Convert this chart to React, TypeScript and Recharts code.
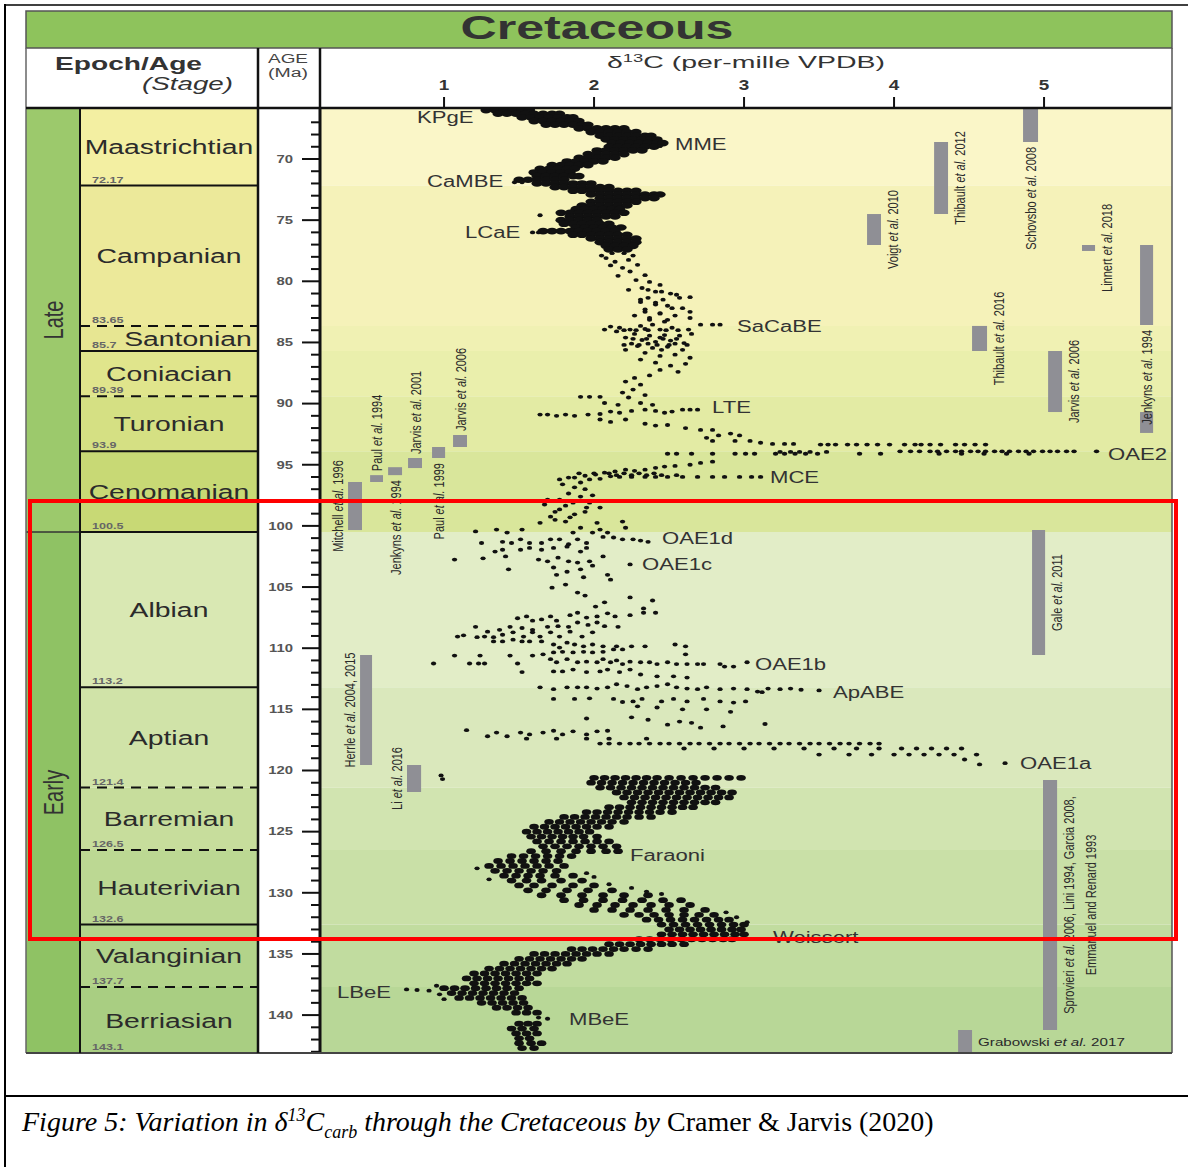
import React from "react";
import { ScatterChart, Scatter, XAxis, YAxis, ReferenceArea, ReferenceLine } from "recharts";

const W = 1188;
const H = 1167;
const PLOT_TOP = 108;
const PLOT_BOTTOM = 1053;
const PLOT_RIGHT = 1172;
const COL_LEFT = 26;
const COL_WIDTH = 232;
const EPOCH_FRAC = 54 / 232;

const SANS = '"Liberation Sans", Arial, Helvetica, sans-serif';
const INK = "#333";

const ageDomain: [number, number] = [65.83, 143.1];
const d13cDomain: [number, number] = [0.173, 5.853];
const d13cTicks = [1, 2, 3, 4, 5];
const ageLabelTicks = [70, 75, 80, 85, 90, 95, 100, 105, 110, 115, 120, 125, 130, 135, 140];
const ageTicks = Array.from({ length: 77 }, (_, i) => 67 + i);

// stages, top to bottom
const stageNames = ["Maastrichtian", "Campanian", "Santonian", "Coniacian", "Turonian", "Cenomanian",
  "Albian", "Aptian", "Barremian", "Hauterivian", "Valanginian", "Berriasian"];
const stageBases = [72.17, 83.65, 85.7, 89.39, 93.9, 100.5, 113.2, 121.4, 126.5, 132.6, 137.7, 143.1];
const baseDashed = [false, true, false, true, false, false, false, true, true, false, true, false];
const stageColors = ["#f3efa2", "#ece99a", "#e7e692", "#e0e58c", "#d5e083", "#c8d975",
  "#d9e8b3", "#d0e3a8", "#c7dd9c", "#bcd893", "#b2d38a", "#a9ce82"];
const bandColors = ["#faf6c8", "#f5f2b9", "#f0f1b3", "#eaefac", "#e3eba4", "#d9e69b",
  "#e2edc7", "#dae8bc", "#d1e4b0", "#c9e0a7", "#c1dc9f", "#b8d797"];
const epochNames = ["Late", "Early"];
const epochBases = [100.5, 143.1];
const epochColors = ["#9cc96c", "#8fc264"];

// δ13C record: dense rows [age, δ13C values]
type Row = [number, number[]];
type Pt = [number, number];

const lateBand: Row[] = [
  [66.0, [1.28, 1.34, 1.4, 1.46, 1.52, 1.57]],
  [66.3, [1.36, 1.42, 1.48, 1.54, 1.6, 1.66, 1.72, 1.77]],
  [66.6, [1.52, 1.58, 1.64, 1.7, 1.76, 1.82, 1.86]],
  [66.9, [1.6, 1.66, 1.72, 1.78, 1.84, 1.9]],
  [67.2, [1.68, 1.74, 1.8, 1.86, 1.92, 1.96]],
  [67.5, [1.9, 1.96, 2.02, 2.08, 2.14, 2.2]],
  [67.8, [1.98, 2.04, 2.1, 2.16, 2.22, 2.28]],
  [68.1, [2.04, 2.1, 2.16, 2.22, 2.28, 2.34, 2.38]],
  [68.4, [2.08, 2.14, 2.2, 2.26, 2.32, 2.38, 2.42]],
  [68.7, [2.12, 2.18, 2.24, 2.3, 2.36, 2.42, 2.46]],
  [69.0, [2.1, 2.16, 2.22, 2.28, 2.34, 2.4]],
  [69.3, [2.02, 2.08, 2.14, 2.2, 2.26, 2.32]],
  [69.6, [1.96, 2.02, 2.08, 2.14, 2.2]],
  [69.9, [1.9, 1.96, 2.02, 2.08, 2.14]],
  [70.2, [1.82, 1.88, 1.94, 2.0, 2.06]],
  [70.5, [1.72, 1.78, 1.84, 1.9, 1.96]],
  [70.8, [1.64, 1.7, 1.76, 1.82, 1.87]],
  [71.1, [1.6, 1.66, 1.72, 1.78, 1.84]],
  [71.4, [1.62, 1.68, 1.74, 1.8, 1.86, 1.9]],
  [71.7, [1.5, 1.56, 1.62, 1.68, 1.74, 1.8]],
  [72.0, [1.62, 1.68, 1.74, 1.8, 1.86, 1.92, 1.98]],
  [72.3, [1.74, 1.8, 1.86, 1.92, 1.98, 2.04, 2.1]],
  [72.6, [1.86, 1.92, 1.98, 2.04, 2.1, 2.16, 2.22, 2.28]],
  [72.9, [1.98, 2.04, 2.1, 2.16, 2.22, 2.28, 2.34, 2.4, 2.44]],
  [73.2, [2.04, 2.1, 2.16, 2.22, 2.28, 2.34, 2.4]],
  [73.5, [1.98, 2.04, 2.1, 2.16, 2.22, 2.28]],
  [73.8, [1.92, 1.98, 2.04, 2.1, 2.16, 2.22]],
  [74.1, [1.88, 1.94, 2.0, 2.06, 2.12, 2.17]],
  [74.4, [1.78, 1.84, 1.9, 1.96, 2.02, 2.08, 2.14, 2.2]],
  [74.7, [1.84, 1.9, 1.96, 2.02, 2.08, 2.14]],
  [75.0, [1.78, 1.84, 1.9, 1.96, 2.02]],
  [75.3, [1.8, 1.86, 1.92, 1.98, 2.04, 2.1]],
  [75.6, [1.88, 1.94, 2.0, 2.06, 2.12, 2.18]],
  [75.9, [1.66, 1.72, 1.78, 1.84, 1.9, 1.96, 2.02, 2.08, 2.14]],
  [76.2, [1.86, 1.92, 1.98, 2.04, 2.1, 2.16, 2.22]],
  [76.5, [1.98, 2.04, 2.1, 2.16, 2.22, 2.28]],
  [76.8, [2.04, 2.1, 2.16, 2.22, 2.28]],
  [77.1, [2.08, 2.14, 2.2, 2.26]],
  [77.4, [2.1, 2.16, 2.22]],
];

const lateRows: Row[] = [
  [93.35, [3.51, 3.56, 3.61, 3.69, 3.75, 3.82, 3.89, 3.97, 4.07, 4.14, 4.18, 4.24, 4.31, 4.41, 4.47, 4.54, 4.61]],
  [93.9, [4.04, 4.11, 4.17, 4.24, 4.29, 4.35, 4.41, 4.45, 4.51, 4.56, 4.61, 4.67, 4.72, 4.77, 4.83, 4.88, 4.93, 4.99, 5.04, 5.09, 5.15, 5.2, 5.35]],
  [94.1, [4.3, 4.45, 4.6, 4.75, 4.9]],
  [94.1, [2.49, 2.55, 2.65, 2.79, 2.94, 3.01, 3.07, 3.21, 3.27, 3.34, 3.41, 3.49, 3.77, 3.91]],
  [93.95, [3.24, 3.31, 3.37, 3.44, 3.55]],
  [96.0, [2.17, 2.25, 2.34, 2.41, 2.49, 2.59, 2.69, 2.79, 2.87, 2.97, 3.05, 3.11]],
  [95.7, [1.9, 2.0, 2.1, 2.2, 2.3, 2.4]],
  [95.85, [2.15, 2.25, 2.35, 2.45, 2.55]],
  [84.0, [2.2, 2.28, 2.36, 2.48, 2.56]],
  [84.7, [2.26, 2.35, 2.46, 2.55]],
  [85.2, [2.2, 2.3, 2.42, 2.5, 2.62]],
];

const lateDots: Pt[] = [
  [68.95, 2.44], [71.9, 1.47], [71.9, 1.52], [76.0, 1.59], [76.0, 1.63], [74.6, 1.64],
  [77.7, 2.12], [77.7, 2.2], [77.9, 2.05], [77.9, 2.26],
  [78.1, 2.08], [78.4, 2.14], [78.25, 2.23], [78.7, 2.11], [78.9, 2.19], [78.65, 2.29], [79.2, 2.24],
  [79.5, 2.34], [79.55, 2.16], [79.9, 2.28], [80.05, 2.37], [80.3, 2.44], [80.55, 2.32], [80.7, 2.23],
  [80.85, 2.41], [81.0, 2.51], [81.35, 2.36], [81.5, 2.46], [81.35, 2.57], [81.7, 2.31], [81.9, 2.41],
  [82.2, 2.52], [82.3, 2.34], [82.6, 2.44], [82.5, 2.64], [83.0, 2.37], [83.15, 2.49], [82.8, 2.27],
  [80.7, 2.36], [80.85, 2.45], [81.1, 2.55], [81.3, 2.64], [81.5, 2.31], [81.75, 2.41], [82.0, 2.49],
  [82.2, 2.59], [82.5, 2.34], [82.65, 2.44], [82.8, 2.54], [83.0, 2.64], [83.15, 2.37], [83.3, 2.47],
  [83.65, 2.31], [83.55, 2.39], [83.8, 2.17], [83.95, 2.24], [83.9, 2.34], [83.95, 2.44], [83.8, 2.52],
  [83.95, 2.63], [83.55, 2.71], [83.55, 2.79], [83.55, 2.84], [84.3, 2.27], [84.45, 2.37], [84.4, 2.47],
  [84.45, 2.57], [84.3, 2.65], [84.8, 2.32], [84.95, 2.41], [84.85, 2.51], [85.05, 2.6], [85.3, 2.29],
  [85.45, 2.39], [85.35, 2.49], [85.6, 2.59], [85.85, 2.34], [86.1, 2.44], [86.0, 2.54], [86.25, 2.64],
  [86.4, 2.31], [86.65, 2.41], [86.9, 2.51], [86.75, 2.61], [87.25, 2.44], [87.4, 2.56], [87.7, 2.37],
  [87.9, 2.27], [88.2, 2.21], [88.45, 2.31], [88.85, 2.26], [89.1, 2.19], [89.3, 2.34], [89.5, 2.23],
  [84.6, 2.21], [84.6, 2.44], [85.1, 2.25], [85.6, 2.45], [85.6, 2.21], [85.1, 2.36], [85.1, 2.54],
  [84.1, 2.15], [83.95, 2.07], [83.7, 2.11],
  [89.45, 1.91], [89.45, 1.97], [89.45, 2.04], [90.9, 1.64], [90.9, 1.69], [91.0, 1.75], [90.9, 1.81],
  [91.0, 1.87], [90.9, 1.96], [90.85, 2.04], [90.65, 2.11], [90.75, 2.17], [90.6, 2.25], [90.5, 2.34],
  [90.6, 2.41], [90.75, 2.47], [90.65, 2.52], [90.5, 2.59], [90.5, 2.64], [90.5, 2.69], [89.95, 2.07],
  [90.1, 2.16], [89.95, 2.31], [90.1, 2.39], [91.3, 2.04], [91.5, 2.11], [91.3, 2.21], [91.65, 2.34],
  [91.8, 2.41], [91.75, 2.49], [92.0, 2.61], [92.15, 2.71], [92.15, 2.79], [92.8, 2.75], [92.6, 2.83],
  [92.45, 2.91], [92.6, 2.97], [93.05, 2.94], [93.05, 3.04], [93.2, 3.11], [93.3, 3.19], [93.3, 3.27],
  [93.3, 3.33], [93.05, 2.79],
  [96.2, 1.77], [96.05, 1.83], [96.05, 1.87], [95.9, 1.94], [95.8, 2.01], [95.65, 2.07], [95.55, 2.14],
  [95.4, 2.21], [95.5, 2.27], [95.4, 2.34], [95.25, 2.41], [95.15, 2.47], [95.1, 2.54], [95.0, 2.64],
  [94.85, 2.71], [94.75, 2.79], [96.45, 1.91], [96.2, 1.97], [96.15, 2.04], [95.95, 2.11],
  [96.6, 1.79], [96.85, 1.87], [97.0, 1.94], [97.35, 1.83], [97.6, 1.91], [97.5, 1.99], [97.85, 1.77],
  [99.75, 1.64], [99.25, 1.71], [98.65, 1.77], [98.1, 1.86], [98.5, 1.95], [98.5, 2.04], [99.65, 2.19],
  [99.75, 2.02], [99.65, 1.81], [98.25, 1.67], [98.85, 1.74], [98.35, 1.81], [99.05, 1.87], [98.85, 1.94],
  [97.85, 1.69], [98.1, 1.97], [99.3, 1.84], [99.5, 1.74],
];

const earlyDots: Pt[] = [
  [100.45, 1.21], [100.3, 1.35], [100.55, 1.42], [100.3, 1.52], [100.55, 1.86], [100.55, 1.99], [100.9, 2.06],
  [100.95, 2.13], [101.1, 2.19], [101.1, 2.26], [101.2, 2.31], [101.3, 2.36], [100.3, 2.04], [100.55, 2.09],
  [100.15, 2.21], [100.15, 1.91],
  [101.4, 1.25], [101.3, 1.39], [101.4, 1.45], [101.1, 1.51], [101.4, 1.57], [101.4, 1.65], [101.1, 1.71],
  [101.1, 1.77], [101.5, 1.83], [101.1, 1.89], [101.4, 1.95], [102.1, 1.34], [101.95, 1.39], [101.95, 1.51],
  [101.8, 1.57], [101.95, 1.65], [101.8, 1.73], [101.7, 1.82], [102.1, 1.91], [101.8, 1.95], [102.5, 1.41],
  [102.75, 1.07], [102.65, 1.26], [102.75, 1.63], [102.9, 1.69], [102.6, 1.76], [102.9, 1.83], [103.0, 1.89],
  [102.9, 1.97], [102.5, 2.06], [103.25, 1.99], [103.15, 2.24], [103.55, 1.43], [103.4, 1.73], [103.75, 1.82],
  [103.55, 1.91], [104.0, 1.75], [104.2, 1.93], [104.0, 2.09], [104.4, 2.11], [105.05, 1.72], [104.8, 1.81],
  [105.45, 1.89], [105.7, 1.94], [105.85, 2.24], [106.1, 2.39], [106.6, 2.01], [106.25, 2.07], [106.75, 2.33],
  [107.1, 2.41], [107.1, 2.33], [107.3, 2.24], [107.55, 1.49], [107.4, 1.55], [107.75, 1.59], [107.65, 1.65],
  [107.4, 1.71], [107.75, 1.75], [107.3, 1.84], [107.1, 1.89], [107.5, 1.95], [107.4, 2.02], [107.15, 2.09],
  [107.4, 2.14], [108.25, 1.21], [108.65, 1.29], [108.5, 1.37], [108.25, 1.44], [108.35, 1.52], [108.5, 1.59],
  [108.25, 1.69], [108.2, 1.76], [108.25, 1.83], [107.9, 1.89], [108.1, 1.96], [107.9, 2.02], [108.2, 2.07],
  [108.25, 2.16], [109.05, 1.09], [108.95, 1.13], [109.1, 1.22], [109.05, 1.27], [109.1, 1.33], [108.9, 1.39],
  [108.7, 1.46], [109.05, 1.53], [108.7, 1.59], [109.05, 1.64], [108.7, 1.71], [109.05, 1.77], [108.65, 1.84],
  [109.05, 1.92], [108.7, 1.99], [109.45, 1.33], [109.45, 1.39], [109.3, 1.46], [109.45, 1.52], [109.45, 1.57],
  [109.45, 1.65], [109.7, 1.73], [109.95, 1.77], [109.55, 1.82], [109.7, 1.87], [109.85, 1.93], [109.7, 1.99],
  [109.85, 2.06], [109.85, 2.15], [109.85, 2.25], [109.85, 2.34], [109.7, 2.54], [109.85, 2.61], [110.6, 1.07],
  [110.6, 1.24], [110.6, 1.44], [110.6, 1.59], [110.5, 1.66], [110.35, 1.73], [110.3, 1.79], [110.35, 1.86],
  [110.3, 1.93], [110.35, 1.99], [110.3, 2.06], [110.1, 2.13], [110.1, 2.19], [110.5, 2.61], [111.25, 0.93],
  [111.25, 1.17], [111.25, 1.23], [111.25, 1.27], [111.25, 1.49], [110.9, 1.71], [111.15, 1.75], [110.9, 1.82],
  [111.15, 1.89], [111.1, 1.95], [111.15, 2.02], [110.9, 2.06], [111.15, 2.11], [111.0, 2.15], [111.3, 2.19],
  [111.1, 2.24], [111.15, 2.31], [111.15, 2.37], [111.3, 2.42], [111.15, 2.49], [111.3, 2.55], [111.3, 2.62],
  [111.3, 2.69], [111.3, 2.73], [111.3, 2.84], [111.5, 2.87], [111.5, 2.93], [111.15, 3.02], [111.95, 1.52],
  [111.9, 1.73], [111.9, 1.79], [111.75, 1.86], [111.95, 1.95], [111.9, 2.04], [111.75, 2.09], [111.95, 2.17],
  [111.75, 2.24], [112.15, 2.31], [112.3, 2.42], [112.3, 2.53], [112.4, 2.62],
  [113.2, 1.64], [113.35, 1.73], [113.2, 1.82], [113.2, 1.89], [113.2, 1.95], [113.3, 2.02], [113.2, 2.09],
  [112.95, 2.15], [113.1, 2.22], [113.35, 2.29], [113.2, 2.35], [113.1, 2.42], [112.95, 2.49], [113.2, 2.55],
  [113.3, 2.62], [113.35, 2.69], [113.2, 2.75], [113.35, 2.84], [113.3, 2.93], [113.35, 3.02], [113.55, 3.09],
  [113.3, 3.16], [113.35, 3.24], [113.3, 3.31], [113.4, 3.38], [113.6, 3.12], [113.45, 3.5],
  [114.15, 1.73], [114.15, 1.87], [114.1, 1.97], [114.15, 2.13], [114.4, 2.19], [114.35, 2.26], [114.15, 2.32],
  [114.35, 2.45], [114.15, 2.53], [114.35, 2.62], [114.15, 2.73], [114.35, 2.84], [114.45, 2.93], [114.35, 3.01],
  [114.75, 2.29], [114.85, 2.42], [115.0, 2.59], [115.0, 2.75], [115.2, 2.91], [115.75, 1.95], [115.65, 2.25],
  [115.85, 2.36], [116.25, 2.49], [116.0, 2.57], [116.1, 2.65], [116.5, 2.71], [116.4, 2.86], [116.2, 3.14],
  [116.7, 1.15], [117.2, 1.29], [116.9, 1.35], [117.2, 1.42], [116.9, 1.51], [117.05, 1.57], [116.9, 1.66],
  [116.75, 1.73], [117.05, 1.79], [116.8, 1.86], [117.05, 1.95], [116.8, 2.02], [116.75, 2.09],
  [119.1, 4.47], [119.5, 4.57], [119.4, 4.74], [120.4, 0.98], [120.7, 0.99],
  [129.3, 2.1], [129.6, 2.25], [129.9, 2.35], [130.1, 2.45], [128.7, 2.0], [128.4, 1.95], [128.0, 1.22],
  [128.9, 1.3], [132.0, 2.95], [132.4, 3.02], [131.6, 2.88],
  [137.9, 0.75], [137.95, 0.82], [138.0, 0.9], [138.3, 0.97], [137.6, 0.95], [138.7, 1.0],
  [140.3, 1.69], [140.2, 1.63],
];

const earlyRows: Row[] = [
  [117.8, [2.04, 2.1, 2.17, 2.24, 2.3, 2.37, 2.44, 2.5, 2.57, 2.64, 2.7, 2.77, 2.84, 2.9, 2.97, 3.04, 3.1,
    3.17, 3.24, 3.3, 3.37, 3.44, 3.5, 3.57, 3.64, 3.7, 3.77, 3.84, 3.9]],
  [118.2, [2.6, 2.8, 3.0, 3.2, 3.4, 3.6, 3.75, 3.9, 4.05, 4.15, 4.25, 4.35, 4.45]],
  [118.7, [3.5, 3.7, 3.85, 4.0, 4.1, 4.2, 4.3, 4.4, 4.55]],
  [117.4, [1.55, 1.75, 1.95, 2.1, 2.35]],
];

const earlyBand: Row[] = [
  [120.6, [2.0, 2.07, 2.14, 2.21, 2.28, 2.35, 2.42, 2.5, 2.58, 2.66, 2.74, 2.82, 2.9, 2.98]],
  [121.0, [1.98, 2.05, 2.12, 2.19, 2.26, 2.33, 2.4, 2.47, 2.54, 2.61, 2.68]],
  [121.4, [2.04, 2.11, 2.18, 2.25, 2.32, 2.39, 2.46, 2.53, 2.6, 2.67, 2.74, 2.81]],
  [121.8, [2.15, 2.22, 2.29, 2.36, 2.43, 2.5, 2.57, 2.64, 2.71, 2.78, 2.85, 2.92]],
  [122.2, [2.2, 2.27, 2.34, 2.41, 2.48, 2.55, 2.62, 2.69, 2.76, 2.83, 2.9]],
  [122.6, [2.25, 2.32, 2.39, 2.46, 2.53, 2.6, 2.67, 2.74, 2.81]],
  [123.0, [2.1, 2.17, 2.24, 2.31, 2.38, 2.45, 2.52, 2.59, 2.66]],
  [123.4, [1.95, 2.02, 2.09, 2.16, 2.23, 2.3, 2.37, 2.44, 2.52]],
  [123.8, [1.8, 1.87, 1.94, 2.01, 2.08, 2.15, 2.22, 2.3, 2.38]],
  [124.2, [1.7, 1.77, 1.84, 1.91, 1.98, 2.05, 2.12, 2.2]],
  [124.6, [1.6, 1.67, 1.74, 1.81, 1.88, 1.95, 2.02, 2.1]],
  [125.0, [1.55, 1.62, 1.69, 1.76, 1.83, 1.9, 1.97]],
  [125.4, [1.58, 1.65, 1.72, 1.79, 1.86, 1.93, 2.02]],
  [125.8, [1.62, 1.7, 1.78, 1.86, 1.94, 2.02, 2.1]],
  [126.2, [1.66, 1.74, 1.82, 1.9, 1.98, 2.06, 2.15]],
  [126.6, [1.58, 1.68, 1.78, 1.88, 1.98, 2.08, 2.16]],
  [127.0, [1.45, 1.53, 1.61, 1.69, 1.77, 1.85]],
  [127.4, [1.36, 1.44, 1.52, 1.6, 1.68, 1.76]],
  [127.8, [1.3, 1.38, 1.46, 1.54, 1.62, 1.7, 1.8]],
  [128.2, [1.34, 1.42, 1.5, 1.58, 1.66, 1.75]],
  [128.6, [1.4, 1.48, 1.56, 1.64, 1.74, 1.86]],
  [129.0, [1.45, 1.55, 1.65, 1.78, 1.92]],
  [129.4, [1.5, 1.6, 1.72, 1.86, 2.0]],
  [129.8, [1.56, 1.68, 1.82, 1.96, 2.12]],
  [130.2, [1.65, 1.78, 1.92, 2.06, 2.2, 2.36]],
  [130.6, [1.8, 1.93, 2.06, 2.19, 2.32, 2.46, 2.58]],
  [131.0, [1.9, 2.02, 2.14, 2.26, 2.38, 2.5, 2.64]],
  [131.4, [2.0, 2.12, 2.24, 2.36, 2.48, 2.6, 2.74]],
  [131.8, [2.2, 2.3, 2.4, 2.5, 2.6, 2.7, 2.8]],
  [132.2, [2.35, 2.43, 2.51, 2.59, 2.67, 2.75, 2.83, 2.9]],
  [132.6, [2.45, 2.53, 2.61, 2.69, 2.77, 2.85, 2.93, 3.0]],
  [133.0, [2.5, 2.57, 2.64, 2.71, 2.78, 2.85, 2.92, 2.98]],
  [133.4, [2.45, 2.52, 2.59, 2.66, 2.73, 2.8, 2.87, 2.94, 3.0]],
  [133.8, [2.3, 2.37, 2.44, 2.51, 2.58, 2.65, 2.72, 2.79, 2.86, 2.92]],
  [134.2, [2.1, 2.17, 2.24, 2.31, 2.38, 2.45, 2.52, 2.6]],
  [134.6, [1.85, 1.92, 1.99, 2.06, 2.13, 2.2, 2.28, 2.36]],
  [135.0, [1.6, 1.67, 1.74, 1.81, 1.88, 1.95, 2.02, 2.1]],
  [135.4, [1.5, 1.57, 1.64, 1.71, 1.78, 1.85, 1.92]],
  [135.8, [1.4, 1.47, 1.54, 1.61, 1.68, 1.75, 1.82]],
  [136.2, [1.3, 1.37, 1.44, 1.51, 1.58, 1.65, 1.72]],
  [136.6, [1.2, 1.27, 1.34, 1.41, 1.48, 1.55, 1.62]],
  [137.0, [1.15, 1.22, 1.29, 1.36, 1.43, 1.5, 1.57]],
  [137.4, [1.2, 1.27, 1.34, 1.41, 1.48, 1.55, 1.62]],
  [137.8, [1.0, 1.07, 1.14, 1.21, 1.28, 1.35, 1.42, 1.5]],
  [138.2, [1.05, 1.12, 1.19, 1.26, 1.33, 1.4, 1.47]],
  [138.6, [1.1, 1.17, 1.24, 1.31, 1.38, 1.45, 1.52]],
  [139.0, [1.25, 1.32, 1.39, 1.46, 1.53]],
  [139.4, [1.35, 1.42, 1.49, 1.56]],
  [139.8, [1.48, 1.55, 1.62]],
  [140.7, [1.5, 1.56, 1.62]],
  [141.1, [1.45, 1.52, 1.6]],
  [141.5, [1.48, 1.55, 1.62]],
  [141.9, [1.5, 1.57]],
  [142.3, [1.5, 1.58, 1.65]],
  [142.7, [1.52, 1.6]],
];

// named excursions (label start)
const events = [
  { name: "KPgE", d13c: 0.82, age: 66.65 },
  { name: "MME", d13c: 2.54, age: 68.85 },
  { name: "CaMBE", d13c: 0.887, age: 71.88 },
  { name: "LCaE", d13c: 1.14, age: 76.05 },
  { name: "SaCaBE", d13c: 2.953, age: 83.74 },
  { name: "LTE", d13c: 2.787, age: 90.36 },
  { name: "OAE2", d13c: 5.427, age: 94.2 },
  { name: "MCE", d13c: 3.173, age: 96.08 },
  { name: "OAE1d", d13c: 2.453, age: 101.0 },
  { name: "OAE1c", d13c: 2.32, age: 103.2 },
  { name: "OAE1b", d13c: 3.073, age: 111.37 },
  { name: "ApABE", d13c: 3.593, age: 113.66 },
  { name: "OAE1a", d13c: 4.84, age: 119.47 },
  { name: "Faraoni", d13c: 2.24, age: 127.0 },
  { name: "Weissert", d13c: 3.193, age: 133.7 },
  { name: "LBeE", d13c: 0.287, age: 138.19 },
  { name: "MBeE", d13c: 1.833, age: 140.4 },
];

// study intervals (grey bars)
const studies = [
  { label: "Schovsbo et al. 2008", d13c: [4.86, 4.96], age: [65.83, 68.61], side: "below" },
  { label: "Thibault et al. 2012", d13c: [4.267, 4.36], age: [68.61, 74.5], side: "right" },
  { label: "Voigt et al. 2010", d13c: [3.82, 3.913], age: [74.5, 77.03], side: "right" },
  { label: "Linnert et al. 2018", d13c: [5.253, 5.34], age: [77.03, 77.52], side: "right" },
  { label: "Jenkyns et al. 1994", d13c: [5.64, 5.727], age: [77.03, 83.57], side: "below" },
  { label: "", d13c: [5.64, 5.727], age: [90.69, 92.4], side: "none" },
  { label: "Thibault et al. 2016", d13c: [4.52, 4.62], age: [83.65, 85.7], side: "right" },
  { label: "Jarvis et al. 2006", d13c: [5.027, 5.12], age: [85.7, 90.69], side: "right" },
  { label: "Jarvis et al. 2006", d13c: [1.06, 1.153], age: [92.57, 93.55], side: "above" },
  { label: "Paul et al. 1999", d13c: [0.92, 1.007], age: [93.55, 94.45], side: "below" },
  { label: "Jarvis et al. 2001", d13c: [0.76, 0.853], age: [94.45, 95.27], side: "above" },
  { label: "Jenkyns et al. 1994", d13c: [0.627, 0.72], age: [95.2, 95.85], side: "below" },
  { label: "Paul et al. 1994", d13c: [0.507, 0.593], age: [95.85, 96.41], side: "above" },
  { label: "Mitchell et al. 1996", d13c: [0.36, 0.453], age: [96.41, 100.34], side: "left" },
  { label: "Gale et al. 2011", d13c: [4.92, 5.007], age: [100.34, 110.56], side: "right" },
  { label: "Herrle et al. 2004, 2015", d13c: [0.44, 0.52], age: [110.56, 119.55], side: "left" },
  { label: "Li et al. 2016", d13c: [0.753, 0.847], age: [119.55, 121.76], side: "left" },
  { label: "Sprovieri et al. 2006, Lini 1994, Garcia 2008,|Emmanuel and Renard 1993", d13c: [4.993, 5.087], age: [120.78, 141.22], side: "right" },
  { label: "Grabowski et al. 2017", d13c: [4.427, 4.52], age: [141.22, 143.1], side: "rightH" },
];

const rowsToPts = (rows: Row[]) => rows.flatMap(([age, ds]) => ds.map((d) => ({ x: d, y: age })));
const pairsToPts = (pts: Pt[]) => pts.map(([age, d]) => ({ x: d, y: age }));

const blob = (rx: number, ry: number) => (p: any) =>
  p.cx == null ? <g /> : <ellipse cx={p.cx} cy={p.cy} rx={rx} ry={ry} fill="#111" />;

function rich(s: string) {
  const parts = s.split("et al.");
  const out: any[] = [];
  parts.forEach((part, i) => {
    if (i > 0) out.push(<tspan key={"i" + i} fontStyle="italic">et al.</tspan>);
    out.push(<tspan key={"p" + i}>{part}</tspan>);
  });
  return out;
}

function StudyLabel(p: any) {
  if (p.cx == null || !p.payload.label) return <g />;
  const { cx, cy } = p;
  const { side, label } = p.payload;
  const common = { fontFamily: SANS, fontSize: 11, fill: "#2a2a2a" };
  if (side === "rightH") {
    return (
      <text transform={`translate(${cx + 6},${cy}) scale(1.38,1)`} dominantBaseline="central" {...common}>
        {rich(label)}
      </text>
    );
  }
  const lines = label.split("|");
  let x = cx;
  let y = cy;
  let anchor = "middle";
  if (side === "left") x = cx - 11;
  if (side === "right") x = cx + 11;
  if (side === "above") { y = cy - 4; anchor = "start"; }
  if (side === "below") { y = cy + 5; anchor = "end"; }
  return (
    <g>
      {lines.map((ln: string, i: number) => (
        <text key={i} transform={`translate(${x + i * 22},${y}) rotate(-90) scale(1,1.3)`}
          textAnchor={anchor} dominantBaseline="central" {...common}>
          {rich(ln)}
        </text>
      ))}
    </g>
  );
}

function EventLabel(p: any) {
  if (p.cx == null) return <g />;
  return (
    <text transform={`translate(${p.cx},${p.cy}) scale(1.38,1)`} dominantBaseline="central"
      fontFamily={SANS} fontSize={16} fill="#333">
      {p.payload.name}
    </text>
  );
}

function AgeTick(p: any) {
  const v = p.payload?.value;
  const major = ageLabelTicks.includes(v);
  const len = major ? 18 : 9;
  return (
    <g>
      <line x1={p.x - len} x2={p.x} y1={p.y} y2={p.y} stroke="#111" strokeWidth={2} />
      {major && (
        <text transform={`translate(${p.x - 27},${p.y}) scale(1.35,1)`} textAnchor="end"
          dominantBaseline="central" fontFamily={SANS} fontSize={11} fontWeight="bold" fill="#555">
          {v}
        </text>
      )}
    </g>
  );
}

function D13cTick(p: any) {
  return (
    <text transform={`translate(${p.x},${p.y}) scale(1.35,1)`} textAnchor="middle"
      fontFamily={SANS} fontSize={14} fontWeight="bold" fill={INK}>
      {p.payload?.value}
    </text>
  );
}

const stageTops = stageBases.map((_, i) => (i === 0 ? ageDomain[0] : stageBases[i - 1]));
const epochTops = epochBases.map((_, i) => (i === 0 ? ageDomain[0] : epochBases[i - 1]));
const labelShift: Record<string, number> = { Santonian: 19 };

function StageLabel(p: any) {
  if (p.cx == null) return <g />;
  const dx = labelShift[p.payload.name] || 0;
  return (
    <text transform={`translate(${p.cx + dx},${p.cy}) scale(1.35,1)`} textAnchor="middle"
      dominantBaseline="central" fontFamily={SANS} fontSize={21} fill="#2b2b2b">
      {p.payload.name}
    </text>
  );
}

function BaseLabel(p: any) {
  if (p.cx == null) return <g />;
  return (
    <text transform={`translate(${p.cx + 12},${p.cy - 3}) scale(1.4,1)`} fontFamily={SANS}
      fontSize={9} fontWeight="bold" fill="#666">
      {p.payload.text}
    </text>
  );
}

function EpochLabel(p: any) {
  if (p.cx == null) return <g />;
  return (
    <text transform={`translate(${p.cx},${p.cy}) rotate(-90) scale(1,1.35)`} textAnchor="middle"
      dominantBaseline="central" fontFamily={SANS} fontSize={20} fill="#333">
      {p.payload.name}
    </text>
  );
}

function StageColumn() {
  const stageLabelPts = stageNames.map((name, i) => ({
    x: (EPOCH_FRAC + 1) / 2, y: (stageTops[i] + stageBases[i]) / 2, name,
  }));
  const basePts = stageBases.map((b) => ({ x: EPOCH_FRAC, y: b, text: String(b) }));
  const epochPts = epochNames.map((name, i) => ({
    x: EPOCH_FRAC / 2, y: (epochTops[i] + epochBases[i]) / 2, name,
  }));
  return (
    <ScatterChart width={COL_WIDTH} height={H}
      margin={{ top: PLOT_TOP, right: 0, bottom: H - PLOT_BOTTOM, left: 0 }}>
      <XAxis type="number" dataKey="x" domain={[0, 1]} hide allowDataOverflow />
      <YAxis type="number" dataKey="y" domain={ageDomain} reversed hide allowDataOverflow />
      {epochNames.map((n, i) => (
        <ReferenceArea key={n} x1={0} x2={EPOCH_FRAC} y1={epochTops[i]} y2={epochBases[i]}
          fill={epochColors[i]} fillOpacity={1} stroke="none" ifOverflow="hidden" />
      ))}
      {stageNames.map((n, i) => (
        <ReferenceArea key={n} x1={EPOCH_FRAC} x2={1} y1={stageTops[i]} y2={stageBases[i]}
          fill={stageColors[i]} fillOpacity={1} stroke="none" ifOverflow="hidden" />
      ))}
      {stageBases.slice(0, -1).map((b, i) => (
        <ReferenceLine key={b} segment={[{ x: EPOCH_FRAC, y: b }, { x: 1, y: b }]} stroke="#111"
          strokeWidth={2} strokeDasharray={baseDashed[i] ? "10 7" : undefined} ifOverflow="visible" />
      ))}
      {epochBases.slice(0, -1).map((b) => (
        <ReferenceLine key={"e" + b} segment={[{ x: 0, y: b }, { x: EPOCH_FRAC, y: b }]} stroke="#333"
          strokeWidth={1.5} ifOverflow="visible" />
      ))}
      <Scatter data={epochPts} shape={EpochLabel} isAnimationActive={false} />
      <Scatter data={stageLabelPts} shape={StageLabel} isAnimationActive={false} />
      <Scatter data={basePts} shape={BaseLabel} isAnimationActive={false} />
    </ScatterChart>
  );
}

function IsotopeChart() {
  const studyLabelPts = studies.map((s) => {
    const midD = (s.d13c[0] + s.d13c[1]) / 2;
    const midA = (s.age[0] + s.age[1]) / 2;
    let x = midD;
    let y = midA;
    if (s.side === "left") x = s.d13c[0];
    if (s.side === "right" || s.side === "rightH") x = s.d13c[1];
    if (s.side === "above") y = s.age[0];
    if (s.side === "below") y = s.age[1];
    return { x, y, side: s.side, label: s.label };
  });
  const eventPts = events.map((e) => ({ x: e.d13c, y: e.age, name: e.name }));
  return (
    <ScatterChart width={W} height={H}
      margin={{ top: 48, right: W - PLOT_RIGHT, bottom: H - PLOT_BOTTOM, left: 258 }}>
      <XAxis type="number" dataKey="x" orientation="top" domain={d13cDomain} ticks={d13cTicks}
        interval={0} height={60} tickSize={11} tickMargin={7} tick={D13cTick}
        axisLine={{ stroke: "#111", strokeWidth: 2.5 }} tickLine={{ stroke: "#111", strokeWidth: 2 }}
        allowDataOverflow />
      <YAxis type="number" dataKey="y" domain={ageDomain} reversed ticks={ageTicks} interval={0}
        width={62} tickSize={0} tickMargin={0} tick={AgeTick} tickLine={false}
        axisLine={{ stroke: "#111", strokeWidth: 3 }} allowDataOverflow />
      {stageNames.map((n, i) => (
        <ReferenceArea key={n} y1={stageTops[i]} y2={stageBases[i]} fill={bandColors[i]}
          fillOpacity={1} stroke="none" ifOverflow="hidden" />
      ))}
      {studies.map((s, i) => (
        <ReferenceArea key={"s" + i} x1={s.d13c[0]} x2={s.d13c[1]} y1={s.age[0]} y2={s.age[1]}
          fill="#8f8f95" fillOpacity={1} stroke="none" ifOverflow="hidden" />
      ))}
      <Scatter data={rowsToPts(lateBand)} shape={blob(5.6, 3.3)} isAnimationActive={false} />
      <Scatter data={rowsToPts(earlyBand)} shape={blob(4.8, 2.9)} isAnimationActive={false} />
      <Scatter data={rowsToPts(lateRows)} shape={blob(2.7, 1.9)} isAnimationActive={false} />
      <Scatter data={rowsToPts(earlyRows)} shape={blob(2.7, 1.9)} isAnimationActive={false} />
      <Scatter data={pairsToPts(lateDots)} shape={blob(2.6, 1.9)} isAnimationActive={false} />
      <Scatter data={pairsToPts(earlyDots)} shape={blob(2.6, 1.9)} isAnimationActive={false} />
      <Scatter data={studyLabelPts} shape={StudyLabel} isAnimationActive={false} />
      <Scatter data={eventPts} shape={EventLabel} isAnimationActive={false} />
    </ScatterChart>
  );
}

function Frame() {
  const line = { stroke: "#111", strokeWidth: 2.5 };
  return (
    <svg width={W} height={H} style={{ position: "absolute", left: 0, top: 0, pointerEvents: "none" }}>
      <line x1={4} y1={5} x2={W} y2={5} stroke="#000" strokeWidth={1.5} />
      <line x1={5} y1={4} x2={5} y2={H} stroke="#000" strokeWidth={2} />
      <line x1={4} y1={1096} x2={W} y2={1096} stroke="#000" strokeWidth={2} />
      <rect x={COL_LEFT} y={11} width={PLOT_RIGHT - COL_LEFT} height={37} fill="#8ec35c" stroke="#555" strokeWidth={1.5} />
      <text x={597} y={39} textAnchor="middle" textLength={273} lengthAdjust="spacingAndGlyphs"
        fontFamily={SANS} fontSize={34} fontWeight="bold" fill="#333">Cretaceous</text>
      <text x={55} y={70} textLength={147} lengthAdjust="spacingAndGlyphs" fontFamily={SANS}
        fontSize={18} fontWeight="bold" fill="#333">Epoch/Age</text>
      <text x={142} y={90} textLength={91} lengthAdjust="spacingAndGlyphs" fontFamily={SANS}
        fontSize={18} fontStyle="italic" fill="#333">(Stage)</text>
      <text x={268} y={63} textLength={40} lengthAdjust="spacingAndGlyphs" fontFamily={SANS}
        fontSize={12} fill="#444">AGE</text>
      <text x={268} y={77} textLength={40} lengthAdjust="spacingAndGlyphs" fontFamily={SANS}
        fontSize={12} fill="#444">(Ma)</text>
      <text x={607} y={68} textLength={278} lengthAdjust="spacingAndGlyphs" fontFamily={SANS}
        fontSize={17} fill="#333">
        δ<tspan fontSize={11} dy={-6}>13</tspan><tspan dy={6}>C (per-mille VPDB)</tspan>
      </text>
      <line x1={COL_LEFT} y1={48} x2={COL_LEFT} y2={PLOT_BOTTOM} stroke="#666" strokeWidth={1.5} />
      <line x1={PLOT_RIGHT} y1={48} x2={PLOT_RIGHT} y2={PLOT_BOTTOM} stroke="#555" strokeWidth={1.5} />
      <line x1={COL_LEFT} y1={PLOT_BOTTOM} x2={PLOT_RIGHT} y2={PLOT_BOTTOM} stroke="#444" strokeWidth={2} />
      <line x1={COL_LEFT} y1={PLOT_TOP} x2={320} y2={PLOT_TOP} {...line} />
      <line x1={258} y1={48} x2={258} y2={PLOT_BOTTOM} {...line} />
      <line x1={320} y1={48} x2={320} y2={PLOT_TOP} {...line} />
      <line x1={80} y1={PLOT_TOP} x2={80} y2={PLOT_BOTTOM} stroke="#111" strokeWidth={2} />
    </svg>
  );
}

export default function App() {
  const supStyle: React.CSSProperties = { fontSize: 18, verticalAlign: "super", lineHeight: 0 };
  const subStyle: React.CSSProperties = { fontSize: 18, verticalAlign: "sub", lineHeight: 0 };
  return (
    <div style={{ position: "absolute", left: 0, top: 0, width: W, height: H, background: "#fff", overflow: "hidden" }}>
      <div style={{ position: "absolute", left: COL_LEFT, top: 0 }}>
        <StageColumn />
      </div>
      <div style={{ position: "absolute", left: 0, top: 0 }}>
        <IsotopeChart />
      </div>
      <Frame />
      <div style={{ position: "absolute", left: 28, top: 499, width: 1150, height: 442,
        border: "4.5px solid #ff0000", boxSizing: "border-box" }} />
      <div style={{ position: "absolute", left: 22, top: 1106, fontFamily: '"Liberation Serif", "Times New Roman", serif',
        fontSize: 28, lineHeight: "32px", whiteSpace: "nowrap", color: "#000" }}>
        <i>Figure 5: Variation in δ<sup style={supStyle}>13</sup>C<sub style={subStyle}>carb</sub> through the Cretaceous by</i> Cramer &amp; Jarvis (2020)
      </div>
    </div>
  );
}
